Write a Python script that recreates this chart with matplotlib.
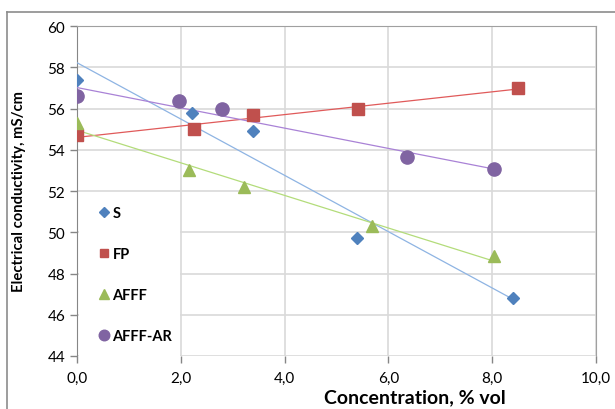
import numpy as np
import matplotlib.pyplot as plt
from matplotlib.lines import Line2D
from matplotlib.patches import Rectangle

plt.rcParams['font.family'] = ['Lato', 'DejaVu Sans']

# concentration (% vol) and electrical conductivity (mS/cm)
s_x = [0.0, 2.22, 3.39, 5.40, 8.40]
s_y = [57.4, 55.8, 54.9, 49.7, 46.8]
fp_x = [0.0, 2.26, 3.39, 5.41, 8.50]
fp_y = [54.7, 55.0, 55.7, 56.0, 57.0]
afff_x = [0.0, 2.15, 3.21, 5.69, 8.04]
afff_y = [55.3, 53.0, 52.2, 50.3, 48.85]
ar_x = [0.0, 1.97, 2.80, 6.36, 8.04]
ar_y = [56.6, 56.35, 56.0, 53.65, 53.05]

labels = ['S', 'FP', 'AFFF', 'AFFF-AR']
xs = [s_x, fp_x, afff_x, ar_x]
ys = [s_y, fp_y, afff_y, ar_y]
colors = ['#4F81BD', '#C0504D', '#9BBB59', '#8064A2']
trend_colors = ['#8EB4E3', '#E05A5A', '#B3DC7A', '#A982D6']
markers = ['D', 's', '^', 'o']
sizes = [6.5, 8, 8.5, 9.5]

fig = plt.figure(figsize=(6.15, 4.1), dpi=100)
ax = fig.add_axes([77/615, 1-357/410, 519/615, 330/410])

for x, y, lab, c, tc, m, ms in zip(xs, ys, labels, colors, trend_colors, markers, sizes):
    x = np.array(x)
    y = np.array(y)
    k, b = np.polyfit(x, y, 1)
    xx = np.array([x.min(), x.max()])
    ax.plot(xx, k*xx + b, color=tc, lw=0.9, zorder=3)
    ax.plot(x, y, ls='none', marker=m, ms=ms, color=c, label=lab, zorder=4)

ax.set_xlim(0, 10)
ax.set_ylim(44, 60)
ax.set_xticks(np.arange(0, 10.1, 2))
ax.set_yticks(np.arange(44, 60.1, 2))
ax.xaxis.set_major_formatter(plt.FuncFormatter(lambda v, p: ('%.1f' % v).replace('.', ',')))
ax.grid(True, color='#D9D9D9', lw=1.2)
ax.set_axisbelow(True)
for sp in ['top', 'right']:
    ax.spines[sp].set_color('#A0A0A0')
ax.spines['left'].set_color('#868686')
ax.spines['bottom'].set_visible(False)
ax.tick_params(colors='#868686', labelcolor='black', labelsize=11, length=5, width=1)
ax.tick_params(axis='x', pad=6)

# white box behind the legend
ax.add_patch(Rectangle((0.003, -0.01), 0.195, 0.498, transform=ax.transAxes,
                       facecolor='white', edgecolor='none', zorder=2.6, clip_on=False))

leg = ax.legend(loc='lower left', bbox_to_anchor=(0.012, 0.0), frameon=False,
                labelspacing=1.85, handletextpad=0.1, handlelength=1.0,
                markerscale=0.8, prop={'weight': 'bold', 'size': 10.5})
leg.set_zorder(5)

ax.set_ylabel('Electrical conductivity, mS/cm', fontsize=10.7, fontweight='bold')
ax.yaxis.set_label_coords(-0.098, 0.5)
ax.set_xlabel('Concentration, % vol', fontsize=14, fontweight='bold')
ax.xaxis.set_label_coords(0.651, -0.097)

# outer chart border
fig.add_artist(Line2D([7/615, 1.0], [1-13/410, 1-13/410], color='#8C8C8C', lw=1.2))
fig.add_artist(Line2D([7/615, 7/615], [0, 1-13/410], color='#8C8C8C', lw=1.2))

fig.savefig('out.png', dpi=100)
